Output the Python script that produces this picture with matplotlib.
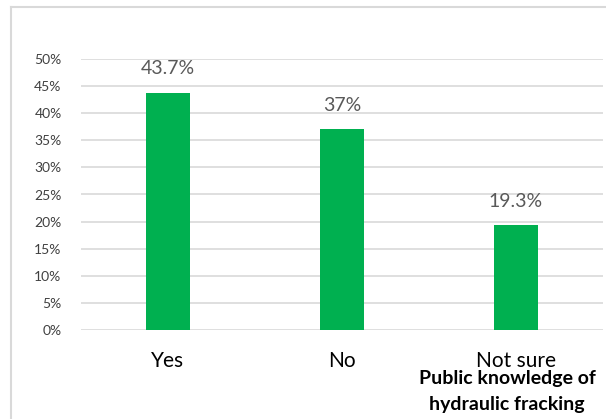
import matplotlib.pyplot as plt
from matplotlib.lines import Line2D
import numpy

categories = ["Yes", "No", "Not sure"]
percent = [43.7, 37, 19.3]
value_labels = ["43.7%", "37%", "19.3%"]
tick_vals = [0, 5, 10, 15, 20, 25, 30, 35, 40, 45, 50]

plt.rcParams['font.family'] = ['Lato', 'DejaVu Sans']

W, H = 606, 419
fig = plt.figure(figsize=(W / 100, H / 100), dpi=100)

# plot area in pixels: x 81..603, y 59..330
left, right, top, bottom = 81, 603, 59, 330
ax = fig.add_axes([left / W, 1 - bottom / H, (right - left) / W, (bottom - top) / H])

x = numpy.arange(len(categories))
bars = ax.bar(x, percent, width=0.25, color="#00b050", zorder=3)
for xi, val, lab in zip(x, percent, value_labels):
    ax.text(xi, val + 2.9, lab, ha="center", va="bottom", fontsize=14, color="#595959")

ax.set_xlim(-0.5, 2.5)
ax.set_ylim(0, 50)
ax.set_yticks(tick_vals)
ax.set_yticklabels(["{}%".format(t) for t in tick_vals], fontsize=10, color="#404040")
ax.set_xticks(x)
ax.set_xticklabels(categories, fontsize=15, color="#000000")
ax.tick_params(axis="both", length=0)
ax.tick_params(axis="y", pad=14)
ax.tick_params(axis="x", pad=15)
ax.grid(axis="y", color="#d9d9d9", linewidth=1.2, zorder=0)
for s in ax.spines.values():
    s.set_visible(False)

fig.text(507 / W, 1 - 378 / H, "Public knowledge of", ha="center", va="center",
         fontsize=14, fontweight="bold")
fig.text(507 / W, 1 - 404 / H, "hydraulic fracking", ha="center", va="center",
         fontsize=14, fontweight="bold")

# chart frame (left and top edges visible)
fig.add_artist(Line2D([11 / W, 11 / W], [0, 1 - 7 / H], color="#d9d9d9", linewidth=1.5))
fig.add_artist(Line2D([11 / W, 1], [1 - 7 / H, 1 - 7 / H], color="#d9d9d9", linewidth=1.5))

fig.savefig("out.png", dpi=100)
